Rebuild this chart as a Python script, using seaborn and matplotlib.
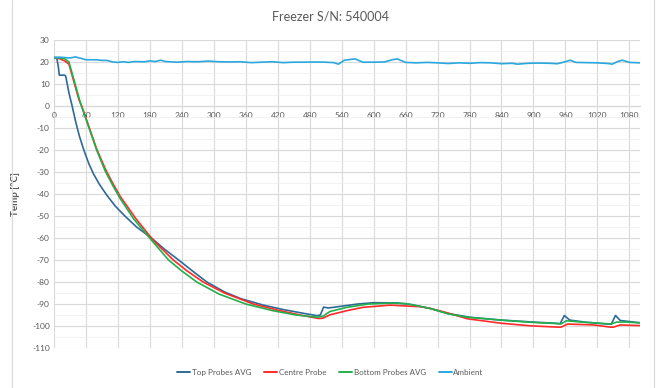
import numpy as np
import pandas as pd
import matplotlib
matplotlib.use("Agg")
import matplotlib.pyplot as plt
import seaborn as sns
from matplotlib.lines import Line2D
from matplotlib.ticker import MultipleLocator

# --- data (minutes, degC) ---
top_t = [0, 5, 8, 10, 20, 22, 28, 34, 41, 48, 56, 65, 74, 85, 99, 115, 133, 155, 183,
         207, 234, 260, 287, 320, 350, 393, 430, 470, 494, 500, 506, 515, 540, 570,
         600, 644, 670, 706, 740, 780, 840, 900, 945, 950, 958, 968, 1000, 1039,
         1046, 1054, 1063, 1100]
top_T = [22, 22, 18, 14, 14, 13.5, 6, 0, -7.5, -14, -20, -26, -30.8, -35.5, -40.5,
         -45.5, -50, -55, -60, -65, -70, -75, -80, -84.5, -87.5, -90.5, -92.5, -94.3,
         -95.3, -95.0, -91.4, -91.8, -91, -90, -89.4, -89.5, -90.2, -92, -94.3, -96,
         -97.3, -98.2, -98.8, -99, -95.2, -97.3, -98.3, -99.1, -99.2, -95.2, -97.5,
         -98.5]

centre_t = [0, 10, 20, 28, 35, 47, 52, 60, 70, 80, 97, 110, 124, 153, 186, 224,
            250, 280, 320, 374, 420, 462, 497, 505, 518, 550, 580, 631, 669, 688,
            706, 738, 776, 838, 894, 945, 952, 964, 1013, 1044, 1050, 1063, 1100]
centre_T = [22, 21.5, 20.5, 19, 13, 2.7, 0, -5.5, -12.5, -19.5, -29, -35, -41,
            -51, -61, -70, -75, -80, -85, -90, -92.8, -95, -96.6, -96.4, -94.9, -93,
            -91.5, -90.5, -91, -91.2, -92, -94, -96.7, -98.7, -99.9, -100.5, -100.5,
            -99.1, -99.5, -100.5, -100.5, -99.5, -99.8]

bottom_t = [0, 20, 28, 35, 50, 55, 60, 70, 80, 96, 110, 124, 150, 183, 215, 240,
            268, 310, 360, 410, 455, 494, 505, 518, 550, 590, 630, 660, 706, 740,
            776, 838, 894, 945, 952, 962, 990, 1040, 1047, 1056, 1075, 1100]
bottom_T = [22, 21.5, 20, 14, 1, -2.5, -6, -13, -20, -29.5, -36, -42, -51.5, -61,
            -70, -75, -80, -85.5, -90, -93, -95, -96, -95.5, -93.4, -91.5, -90,
            -89.6, -89.8, -92, -94.5, -96, -97.3, -98.3, -98.9, -99, -97.6, -98.2,
            -99, -99, -98.2, -98.2, -98.6]

amb_t = [0, 10, 20, 30, 40, 50, 60, 80, 90, 100, 110, 120, 130, 140, 150, 170,
         180, 190, 200, 210, 230, 250, 270, 290, 310, 330, 350, 370, 390, 410, 430,
         450, 470, 490, 510, 525, 534, 545, 565, 580, 600, 620, 635, 644, 660, 680,
         700, 720, 740, 760, 780, 800, 820, 840, 860, 870, 890, 910, 930, 945, 955,
         969, 980, 1000, 1020, 1040, 1048, 1058, 1067, 1080, 1100]
amb_T = [22, 22.2, 22, 21.8, 22.3, 21.7, 21, 21, 20.7, 20.7, 20, 19.8, 20.1, 19.8,
         20.2, 20.1, 20.5, 20.2, 20.8, 20.2, 19.9, 20.2, 20.1, 20.4, 20.1, 20, 20.1,
         19.7, 19.9, 20.1, 19.7, 19.9, 19.9, 20, 19.9, 19.7, 19, 20.8, 21.4, 19.9,
         19.9, 20, 21, 21.4, 19.8, 19.6, 19.8, 19.6, 19.3, 19.6, 19.4, 19.7, 19.6,
         19.2, 19.4, 19, 19.4, 19.5, 19.4, 19.2, 19.8, 20.8, 19.8, 19.7, 19.6, 19.3,
         19, 20.2, 20.8, 19.8, 19.6]

series = ["Top Probes AVG", "Centre Probe", "Bottom Probes AVG", "Ambient"]
colors = ["#2E6A97", "#FF2A2A", "#22B04A", "#2AA8DE"]

df = pd.concat([
    pd.DataFrame({"t": top_t, "T": top_T, "series": series[0]}),
    pd.DataFrame({"t": centre_t, "T": centre_T, "series": series[1]}),
    pd.DataFrame({"t": bottom_t, "T": bottom_T, "series": series[2]}),
    pd.DataFrame({"t": amb_t, "T": amb_T, "series": series[3]}),
], ignore_index=True)

sns.set_theme(style="white")
plt.rcParams["font.family"] = ["Lato", "DejaVu Sans"]
plt.rcParams["axes.unicode_minus"] = False

grey = "#595959"
fig = plt.figure(figsize=(6.61, 3.88), dpi=100)
ax = fig.add_axes([0.0817, 0.103, 0.8865, 0.794])

sns.lineplot(data=df, x="t", y="T", hue="series", hue_order=series,
             palette=dict(zip(series, colors)), estimator=None, sort=True,
             linewidth=1.2, ax=ax, legend=False, zorder=3)

ax.set_xlim(0, 1100)
ax.set_ylim(-110, 30)
ax.set_xticks(np.arange(0, 1081, 60))
ax.set_yticks(np.arange(-110, 31, 10))
ax.yaxis.set_minor_locator(MultipleLocator(5))
ax.grid(which="major", axis="both", color="#d9d9d9", lw=0.8, zorder=0)
ax.grid(which="minor", axis="y", color="#f0f0f0", lw=0.6, zorder=0)

for s in ["top", "right", "left"]:
    ax.spines[s].set_visible(False)
ax.spines["bottom"].set_position(("data", 0))
ax.spines["bottom"].set_color("#d9d9d9")
ax.spines["bottom"].set_linewidth(0.9)
ax.tick_params(axis="both", which="both", length=0, labelsize=6,
               labelcolor=grey, pad=3)
ax.tick_params(axis="x", pad=4)
ax.set_xlabel("")
ax.set_ylabel("Temp [°C]", fontsize=7, color=grey, fontweight="bold",
              labelpad=9)

fig.text(0.5, 0.957, "Freezer S/N: 540004", ha="center", va="center",
         fontsize=9, color=grey)

handles = [Line2D([], [], color=c, lw=1.4) for c in colors]
fig.legend(handles, series, loc="center", bbox_to_anchor=(0.5, 0.041), ncol=4,
           frameon=False, fontsize=5.8, handlelength=1.6, handletextpad=0.2,
           columnspacing=1.6, labelcolor=grey)

# chart area border
fig.add_artist(Line2D([12 / 661, 12 / 661], [0, 1], color="#d9d9d9", lw=0.8,
                      transform=fig.transFigure))
fig.add_artist(Line2D([654 / 661, 654 / 661], [0, 1], color="#d9d9d9", lw=0.8,
                      transform=fig.transFigure))

fig.savefig("out.png", dpi=100, facecolor="white")
